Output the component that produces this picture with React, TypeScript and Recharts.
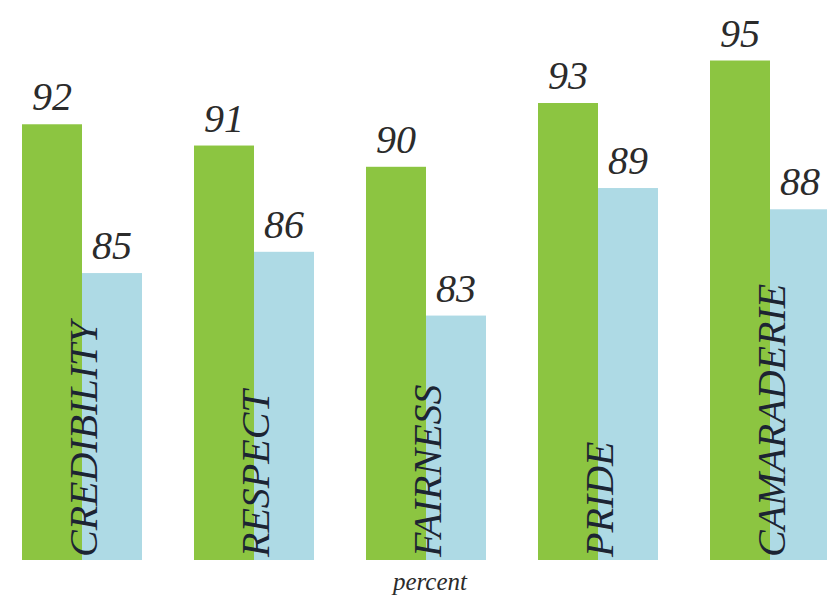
import { Bar, BarChart, XAxis, YAxis } from "recharts"

const categories = ["CREDIBILITY", "RESPECT", "FAIRNESS", "PRIDE", "CAMARADERIE"]
const greenValues = [92, 91, 90, 93, 95]
const blueValues = [85, 86, 83, 89, 88]

const data = categories.map((name, i) => ({
  name,
  green: greenValues[i],
  blue: blueValues[i],
}))

const serif = "Liberation Serif"

// bar rect plus its value label; the blue bar (drawn last) also carries the category name
const makeShape = (key: "green" | "blue", fill: string) => (props: any) => {
  const { x, y, width, height, payload } = props
  const tx = x + 15
  const ty = y + height - 3
  return (
    <g>
      <rect x={x} y={y} width={width} height={height} fill={fill} />
      <text
        x={x + width / 2}
        y={y - 14}
        textAnchor="middle"
        fontFamily={serif}
        fontStyle="italic"
        fontSize={40}
        fill="#2b2b2b"
      >
        {payload[key]}
      </text>
      {key === "blue" && (
        <text
          x={tx}
          y={ty}
          transform={`rotate(-90, ${tx}, ${ty})`}
          textAnchor="start"
          fontFamily={serif}
          fontStyle="italic"
          fontSize={40}
          fill="#1c2433"
        >
          {payload.name}
        </text>
      )}
    </g>
  )
}

export default function App() {
  return (
    <div
      style={{
        position: "absolute",
        left: 0,
        top: 0,
        width: 827,
        height: 609,
        overflow: "hidden",
        background: "#ffffff",
      }}
    >
      <div style={{ position: "absolute", left: -4, top: 0 }}>
        <BarChart
          width={860}
          height={609}
          data={data}
          margin={{ top: 18, right: 0, bottom: 49, left: 0 }}
          barCategoryGap={26}
          barGap={0}
        >
          <XAxis dataKey="name" hide />
          <YAxis hide domain={[71.5, 97]} allowDataOverflow />
          <Bar dataKey="green" isAnimationActive={false} shape={makeShape("green", "#8cc541")} />
          <Bar dataKey="blue" isAnimationActive={false} shape={makeShape("blue", "#aedae5")} />
        </BarChart>
      </div>
      <div
        style={{
          position: "absolute",
          left: 0,
          width: 860,
          top: 568,
          textAlign: "center",
          fontFamily: serif,
          fontStyle: "italic",
          fontSize: 25,
          color: "#2b2b2b",
        }}
      >
        percent
      </div>
    </div>
  )
}
